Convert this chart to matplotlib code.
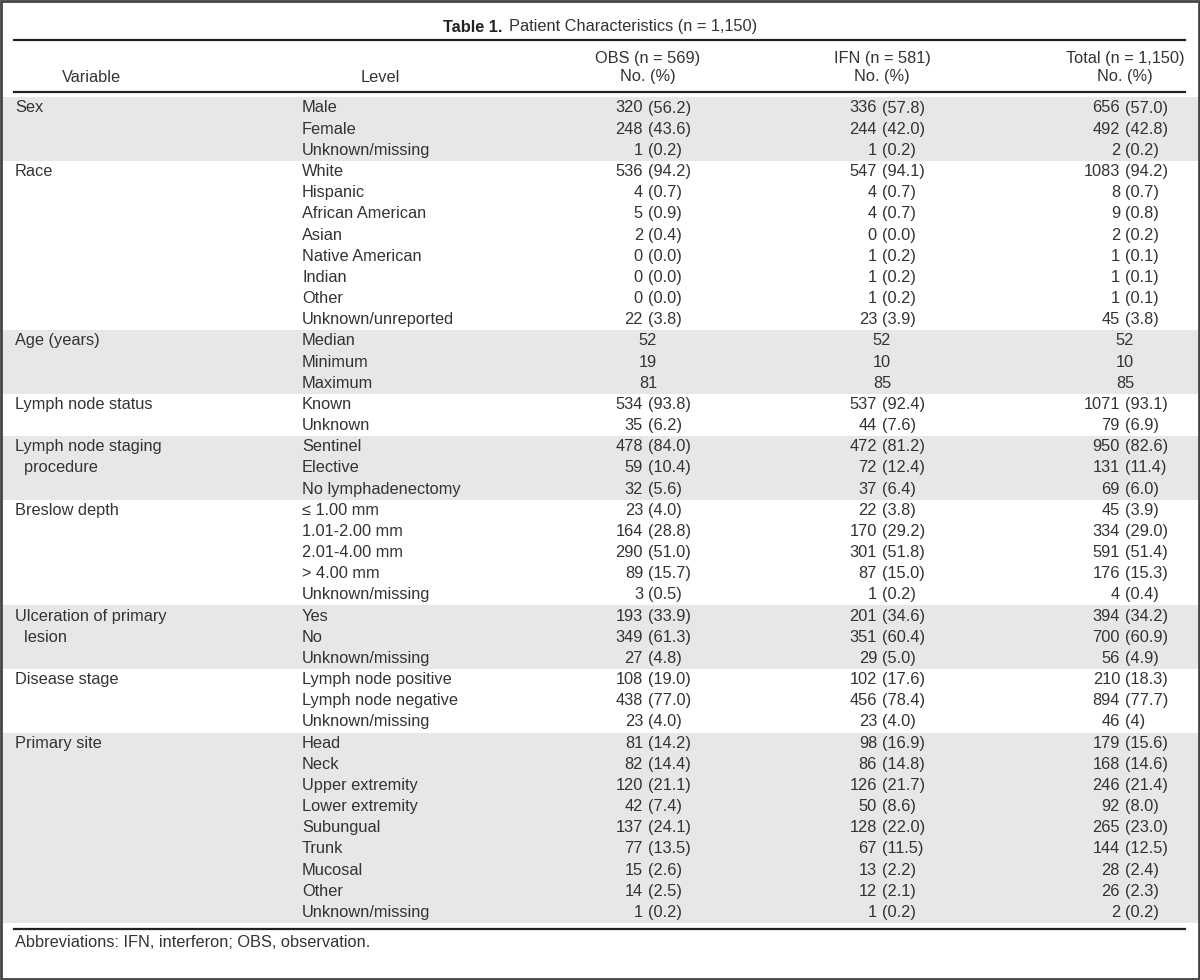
import matplotlib
matplotlib.use("Agg")
import matplotlib.pyplot as plt

plt.rcParams['font.family'] = ['Liberation Sans', 'DejaVu Sans']

title_bold = "Table 1."
title_rest = "Patient Characteristics (n = 1,150)"
col_heads = ["OBS (n = 569)", "IFN (n = 581)", "Total (n = 1,150)"]
sub_head = "No. (%)"
footnote = "Abbreviations: IFN, interferon; OBS, observation."

variables = ["Sex", "Race", "Age (years)", "Lymph node status",
             "Lymph node staging\n  procedure", "Breslow depth",
             "Ulceration of primary\n  lesion", "Disease stage", "Primary site"]
levels = [
    ["Male", "Female", "Unknown/missing"],
    ["White", "Hispanic", "African American", "Asian", "Native American",
     "Indian", "Other", "Unknown/unreported"],
    ["Median", "Minimum", "Maximum"],
    ["Known", "Unknown"],
    ["Sentinel", "Elective", "No lymphadenectomy"],
    ["\u2264 1.00 mm", "1.01-2.00 mm", "2.01-4.00 mm", "> 4.00 mm", "Unknown/missing"],
    ["Yes", "No", "Unknown/missing"],
    ["Lymph node positive", "Lymph node negative", "Unknown/missing"],
    ["Head", "Neck", "Upper extremity", "Lower extremity", "Subungual",
     "Trunk", "Mucosal", "Other", "Unknown/missing"],
]
obs = [
    ["320 (56.2)", "248 (43.6)", "1 (0.2)"],
    ["536 (94.2)", "4 (0.7)", "5 (0.9)", "2 (0.4)", "0 (0.0)", "0 (0.0)", "0 (0.0)", "22 (3.8)"],
    ["52", "19", "81"],
    ["534 (93.8)", "35 (6.2)"],
    ["478 (84.0)", "59 (10.4)", "32 (5.6)"],
    ["23 (4.0)", "164 (28.8)", "290 (51.0)", "89 (15.7)", "3 (0.5)"],
    ["193 (33.9)", "349 (61.3)", "27 (4.8)"],
    ["108 (19.0)", "438 (77.0)", "23 (4.0)"],
    ["81 (14.2)", "82 (14.4)", "120 (21.1)", "42 (7.4)", "137 (24.1)", "77 (13.5)",
     "15 (2.6)", "14 (2.5)", "1 (0.2)"],
]
ifn = [
    ["336 (57.8)", "244 (42.0)", "1 (0.2)"],
    ["547 (94.1)", "4 (0.7)", "4 (0.7)", "0 (0.0)", "1 (0.2)", "1 (0.2)", "1 (0.2)", "23 (3.9)"],
    ["52", "10", "85"],
    ["537 (92.4)", "44 (7.6)"],
    ["472 (81.2)", "72 (12.4)", "37 (6.4)"],
    ["22 (3.8)", "170 (29.2)", "301 (51.8)", "87 (15.0)", "1 (0.2)"],
    ["201 (34.6)", "351 (60.4)", "29 (5.0)"],
    ["102 (17.6)", "456 (78.4)", "23 (4.0)"],
    ["98 (16.9)", "86 (14.8)", "126 (21.7)", "50 (8.6)", "128 (22.0)", "67 (11.5)",
     "13 (2.2)", "12 (2.1)", "1 (0.2)"],
]
total = [
    ["656 (57.0)", "492 (42.8)", "2 (0.2)"],
    ["1083 (94.2)", "8 (0.7)", "9 (0.8)", "2 (0.2)", "1 (0.1)", "1 (0.1)", "1 (0.1)", "45 (3.8)"],
    ["52", "10", "85"],
    ["1071 (93.1)", "79 (6.9)"],
    ["950 (82.6)", "131 (11.4)", "69 (6.0)"],
    ["45 (3.9)", "334 (29.0)", "591 (51.4)", "176 (15.3)", "4 (0.4)"],
    ["394 (34.2)", "700 (60.9)", "56 (4.9)"],
    ["210 (18.3)", "894 (77.7)", "46 (4)"],
    ["179 (15.6)", "168 (14.6)", "246 (21.4)", "92 (8.0)", "265 (23.0)", "144 (12.5)",
     "28 (2.4)", "26 (2.3)", "2 (0.2)"],
]

W, H = 1200, 980
fig = plt.figure(figsize=(W / 100, H / 100), dpi=100)
ax = fig.add_axes([0, 0, 1, 1])
ax.set_xlim(0, W)
ax.set_ylim(H, 0)
ax.axis('off')

txt = '#333333'
fs = 11.8
band = '#e6e7e6'
row0, pitch = 108, 21.17
x_var, x_lev = 15, 302
x_cols = [648, 882, 1125]
x_left, x_right = 14, 1185

# title: bold part + regular part, centred together
fig.canvas.draw()
r = fig.canvas.get_renderer()
t1 = ax.text(0, 27, title_bold, fontsize=fs, fontweight='bold', color='#222222', va='center')
t2 = ax.text(0, 27, title_rest, fontsize=fs, color=txt, va='center')
w1 = t1.get_window_extent(r).width
w2 = t2.get_window_extent(r).width
gap = 6
x0 = W / 2 - (w1 + gap + w2) / 2
t1.set_x(x0)
t2.set_x(x0 + w1 + gap)

# header
ax.plot([x_left, x_right], [40, 40], color='#222222', lw=1.6)
ax.text(91, 77, "Variable", fontsize=fs, color=txt, ha='center', va='center')
ax.text(380, 77, "Level", fontsize=fs, color=txt, ha='center', va='center')
for xc, head in zip(x_cols, col_heads):
    ax.text(xc, 59, head, fontsize=fs, color=txt, ha='center', va='center')
    ax.text(xc, 77, sub_head, fontsize=fs, color=txt, ha='center', va='center')
ax.plot([x_left, x_right], [92, 92], color='#222222', lw=1.6)


def put_value(xc, y, s):
    # align on the opening parenthesis
    if '(' in s:
        num, par = s.split(' (')
        ax.text(xc - 5, y, num, fontsize=fs, color=txt, ha='right', va='center')
        ax.text(xc, y, '(' + par, fontsize=fs, color=txt, ha='left', va='center')
    else:
        ax.text(xc, y, s, fontsize=fs, color=txt, ha='center', va='center')


i = 0
for g, var in enumerate(variables):
    n = len(levels[g])
    y_top = row0 + i * pitch - pitch / 2
    if g % 2 == 0:
        ax.fill_between([0, W], y_top, y_top + n * pitch, color=band, lw=0, zorder=0)
    for k, line in enumerate(var.split('\n')):
        ax.text(x_var, row0 + (i + k) * pitch, line, fontsize=fs, color=txt, va='center')
    for j in range(n):
        y = row0 + (i + j) * pitch
        ax.text(x_lev, y, levels[g][j], fontsize=fs, color=txt, va='center')
        put_value(x_cols[0], y, obs[g][j])
        put_value(x_cols[1], y, ifn[g][j])
        put_value(x_cols[2], y, total[g][j])
    i += n

ax.plot([x_left, x_right], [929, 929], color='#222222', lw=1.6)
ax.text(15, 942, footnote, fontsize=fs, color=txt, va='center')

# outer frame
ax.add_patch(plt.Rectangle((1, 1), W - 2, H - 2, fill=False, ec='#444444', lw=2))

fig.savefig('out.png', dpi=100)
